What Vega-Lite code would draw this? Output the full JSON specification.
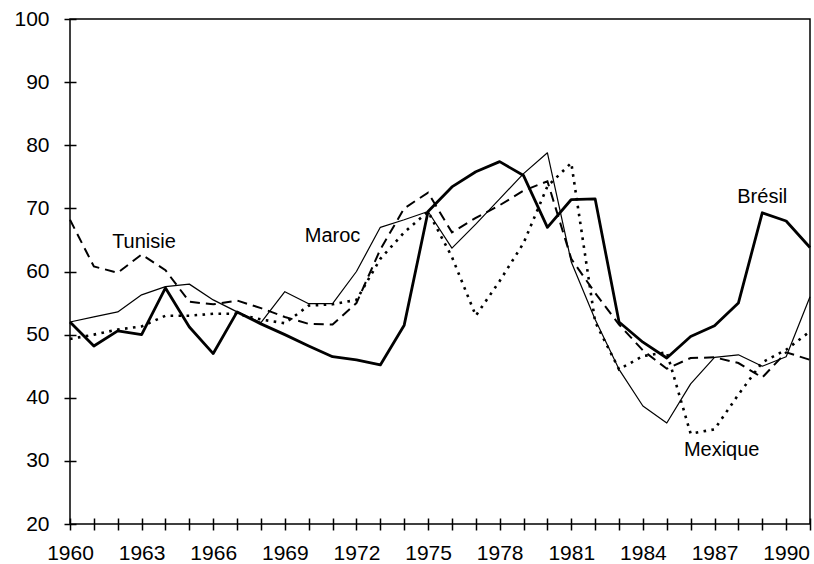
{
  "$schema": "https://vega.github.io/schema/vega-lite/v6.json",
  "width": 740,
  "height": 505,
  "autosize": {"type": "none"},
  "padding": {"left": 70, "top": 19, "right": 4, "bottom": 40},
  "background": "white",
  "config": {
    "view": {"stroke": "black", "strokeWidth": 1.5},
    "font": "Liberation Sans",
    "axis": {"grid": false, "domain": false, "tickColor": "black", "tickWidth": 1.5, "labelColor": "black", "labelFontSize": 21, "labelFont": "Liberation Sans", "title": null, "labelOverlap": false, "labelFlush": false}
  },
  "datasets": {
    "series": [
      {"annee": 1960, "pays": "Brésil", "valeur": 52}, {"annee": 1961, "pays": "Brésil", "valeur": 48.2}, {"annee": 1962, "pays": "Brésil", "valeur": 50.6}, {"annee": 1963, "pays": "Brésil", "valeur": 50}, {"annee": 1964, "pays": "Brésil", "valeur": 57.4}, {"annee": 1965, "pays": "Brésil", "valeur": 51.2}, {"annee": 1966, "pays": "Brésil", "valeur": 47}, {"annee": 1967, "pays": "Brésil", "valeur": 53.6}, {"annee": 1968, "pays": "Brésil", "valeur": 51.7}, {"annee": 1969, "pays": "Brésil", "valeur": 50}, {"annee": 1970, "pays": "Brésil", "valeur": 48.2}, {"annee": 1971, "pays": "Brésil", "valeur": 46.5}, {"annee": 1972, "pays": "Brésil", "valeur": 46}, {"annee": 1973, "pays": "Brésil", "valeur": 45.2}, {"annee": 1974, "pays": "Brésil", "valeur": 51.5}, {"annee": 1975, "pays": "Brésil", "valeur": 69.5}, {"annee": 1976, "pays": "Brésil", "valeur": 73.4}, {"annee": 1977, "pays": "Brésil", "valeur": 75.8}, {"annee": 1978, "pays": "Brésil", "valeur": 77.4}, {"annee": 1979, "pays": "Brésil", "valeur": 75.2}, {"annee": 1980, "pays": "Brésil", "valeur": 67}, {"annee": 1981, "pays": "Brésil", "valeur": 71.4}, {"annee": 1982, "pays": "Brésil", "valeur": 71.5}, {"annee": 1983, "pays": "Brésil", "valeur": 52}, {"annee": 1984, "pays": "Brésil", "valeur": 48.8}, {"annee": 1985, "pays": "Brésil", "valeur": 46.3}, {"annee": 1986, "pays": "Brésil", "valeur": 49.7}, {"annee": 1987, "pays": "Brésil", "valeur": 51.4}, {"annee": 1988, "pays": "Brésil", "valeur": 55}, {"annee": 1989, "pays": "Brésil", "valeur": 69.3}, {"annee": 1990, "pays": "Brésil", "valeur": 68}, {"annee": 1991, "pays": "Brésil", "valeur": 63.8},
      {"annee": 1960, "pays": "Maroc", "valeur": 52}, {"annee": 1961, "pays": "Maroc", "valeur": 52.8}, {"annee": 1962, "pays": "Maroc", "valeur": 53.6}, {"annee": 1963, "pays": "Maroc", "valeur": 56.3}, {"annee": 1964, "pays": "Maroc", "valeur": 57.6}, {"annee": 1965, "pays": "Maroc", "valeur": 58}, {"annee": 1966, "pays": "Maroc", "valeur": 55.5}, {"annee": 1967, "pays": "Maroc", "valeur": 53.6}, {"annee": 1968, "pays": "Maroc", "valeur": 51.9}, {"annee": 1969, "pays": "Maroc", "valeur": 56.8}, {"annee": 1970, "pays": "Maroc", "valeur": 54.9}, {"annee": 1971, "pays": "Maroc", "valeur": 54.9}, {"annee": 1972, "pays": "Maroc", "valeur": 60}, {"annee": 1973, "pays": "Maroc", "valeur": 67}, {"annee": 1974, "pays": "Maroc", "valeur": 68.2}, {"annee": 1975, "pays": "Maroc", "valeur": 69.5}, {"annee": 1976, "pays": "Maroc", "valeur": 63.7}, {"annee": 1977, "pays": "Maroc", "valeur": 67.5}, {"annee": 1978, "pays": "Maroc", "valeur": 71.5}, {"annee": 1979, "pays": "Maroc", "valeur": 75.5}, {"annee": 1980, "pays": "Maroc", "valeur": 78.8}, {"annee": 1981, "pays": "Maroc", "valeur": 61.5}, {"annee": 1982, "pays": "Maroc", "valeur": 52.4}, {"annee": 1983, "pays": "Maroc", "valeur": 44.5}, {"annee": 1984, "pays": "Maroc", "valeur": 38.7}, {"annee": 1985, "pays": "Maroc", "valeur": 36}, {"annee": 1986, "pays": "Maroc", "valeur": 42.2}, {"annee": 1987, "pays": "Maroc", "valeur": 46.4}, {"annee": 1988, "pays": "Maroc", "valeur": 46.8}, {"annee": 1989, "pays": "Maroc", "valeur": 45}, {"annee": 1990, "pays": "Maroc", "valeur": 46.5}, {"annee": 1991, "pays": "Maroc", "valeur": 56},
      {"annee": 1960, "pays": "Tunisie", "valeur": 68.2}, {"annee": 1961, "pays": "Tunisie", "valeur": 60.8}, {"annee": 1962, "pays": "Tunisie", "valeur": 59.8}, {"annee": 1963, "pays": "Tunisie", "valeur": 62.7}, {"annee": 1964, "pays": "Tunisie", "valeur": 60.2}, {"annee": 1965, "pays": "Tunisie", "valeur": 55.2}, {"annee": 1966, "pays": "Tunisie", "valeur": 54.8}, {"annee": 1967, "pays": "Tunisie", "valeur": 55.4}, {"annee": 1968, "pays": "Tunisie", "valeur": 54.2}, {"annee": 1969, "pays": "Tunisie", "valeur": 52.8}, {"annee": 1970, "pays": "Tunisie", "valeur": 51.7}, {"annee": 1971, "pays": "Tunisie", "valeur": 51.6}, {"annee": 1972, "pays": "Tunisie", "valeur": 55}, {"annee": 1973, "pays": "Tunisie", "valeur": 63.5}, {"annee": 1974, "pays": "Tunisie", "valeur": 70}, {"annee": 1975, "pays": "Tunisie", "valeur": 72.5}, {"annee": 1976, "pays": "Tunisie", "valeur": 66.2}, {"annee": 1977, "pays": "Tunisie", "valeur": 68.5}, {"annee": 1978, "pays": "Tunisie", "valeur": 70.5}, {"annee": 1979, "pays": "Tunisie", "valeur": 72.8}, {"annee": 1980, "pays": "Tunisie", "valeur": 74.3}, {"annee": 1981, "pays": "Tunisie", "valeur": 62}, {"annee": 1982, "pays": "Tunisie", "valeur": 56.6}, {"annee": 1983, "pays": "Tunisie", "valeur": 51.6}, {"annee": 1984, "pays": "Tunisie", "valeur": 47.5}, {"annee": 1985, "pays": "Tunisie", "valeur": 44.6}, {"annee": 1986, "pays": "Tunisie", "valeur": 46.3}, {"annee": 1987, "pays": "Tunisie", "valeur": 46.4}, {"annee": 1988, "pays": "Tunisie", "valeur": 45.5}, {"annee": 1989, "pays": "Tunisie", "valeur": 43.2}, {"annee": 1990, "pays": "Tunisie", "valeur": 47.2}, {"annee": 1991, "pays": "Tunisie", "valeur": 46},
      {"annee": 1960, "pays": "Mexique", "valeur": 49.3}, {"annee": 1961, "pays": "Mexique", "valeur": 50}, {"annee": 1962, "pays": "Mexique", "valeur": 50.8}, {"annee": 1963, "pays": "Mexique", "valeur": 51.3}, {"annee": 1964, "pays": "Mexique", "valeur": 53}, {"annee": 1965, "pays": "Mexique", "valeur": 53}, {"annee": 1966, "pays": "Mexique", "valeur": 53.3}, {"annee": 1967, "pays": "Mexique", "valeur": 53.3}, {"annee": 1968, "pays": "Mexique", "valeur": 52.4}, {"annee": 1969, "pays": "Mexique", "valeur": 51.8}, {"annee": 1970, "pays": "Mexique", "valeur": 54.6}, {"annee": 1971, "pays": "Mexique", "valeur": 54.8}, {"annee": 1972, "pays": "Mexique", "valeur": 55.5}, {"annee": 1973, "pays": "Mexique", "valeur": 62}, {"annee": 1974, "pays": "Mexique", "valeur": 66.2}, {"annee": 1975, "pays": "Mexique", "valeur": 69.5}, {"annee": 1976, "pays": "Mexique", "valeur": 62.3}, {"annee": 1977, "pays": "Mexique", "valeur": 53}, {"annee": 1978, "pays": "Mexique", "valeur": 58.5}, {"annee": 1979, "pays": "Mexique", "valeur": 64.5}, {"annee": 1980, "pays": "Mexique", "valeur": 73.5}, {"annee": 1981, "pays": "Mexique", "valeur": 77.2}, {"annee": 1982, "pays": "Mexique", "valeur": 52}, {"annee": 1983, "pays": "Mexique", "valeur": 44.5}, {"annee": 1984, "pays": "Mexique", "valeur": 46.6}, {"annee": 1985, "pays": "Mexique", "valeur": 47.2}, {"annee": 1986, "pays": "Mexique", "valeur": 34.3}, {"annee": 1987, "pays": "Mexique", "valeur": 35}, {"annee": 1988, "pays": "Mexique", "valeur": 40.5}, {"annee": 1989, "pays": "Mexique", "valeur": 45.6}, {"annee": 1990, "pays": "Mexique", "valeur": 47.6}, {"annee": 1991, "pays": "Mexique", "valeur": 50.5}
    ],
    "etiquettes": [
      {"annee": 1963.1, "valeur": 64.7, "texte": "Tunisie"},
      {"annee": 1971.0, "valeur": 65.7, "texte": "Maroc"},
      {"annee": 1989.0, "valeur": 71.8, "texte": "Brésil"},
      {"annee": 1987.3, "valeur": 31.8, "texte": "Mexique"}
    ]
  },
  "encoding": {
    "x": {
      "field": "annee", "type": "quantitative",
      "scale": {"domain": [1960, 1991], "nice": false, "zero": false},
      "axis": {
        "values": [1960,1961,1962,1963,1964,1965,1966,1967,1968,1969,1970,1971,1972,1973,1974,1975,1976,1977,1978,1979,1980,1981,1982,1983,1984,1985,1986,1987,1988,1989,1990,1991],
        "labelExpr": "(datum.value - 1960) % 3 == 0 && datum.value <= 1990 ? datum.value : ''",
        "offset": -6, "tickSize": 12, "labelPadding": 12, "labelFlush": false, "labelOverlap": false
      }
    },
    "y": {
      "field": "valeur", "type": "quantitative",
      "scale": {"domain": [20, 100], "nice": false, "zero": false},
      "axis": {"values": [20,30,40,50,60,70,80,90,100], "offset": -6, "tickSize": 12, "labelPadding": 15, "labelFlush": false, "labelOverlap": false}
    }
  },
  "layer": [
    {
      "data": {"name": "series"},
      "transform": [{"filter": "datum.pays == 'Maroc'"}],
      "mark": {"type": "line", "color": "black", "strokeWidth": 1.2, "strokeJoin": "round"}
    },
    {
      "data": {"name": "series"},
      "transform": [{"filter": "datum.pays == 'Tunisie'"}],
      "mark": {"type": "line", "color": "black", "strokeWidth": 2, "strokeDash": [10, 6]}
    },
    {
      "data": {"name": "series"},
      "transform": [{"filter": "datum.pays == 'Mexique'"}],
      "mark": {"type": "line", "color": "black", "strokeWidth": 2.6, "strokeDash": [2.6, 5.4]}
    },
    {
      "data": {"name": "series"},
      "transform": [{"filter": "datum.pays == 'Brésil'"}],
      "mark": {"type": "line", "color": "black", "strokeWidth": 2.8, "strokeJoin": "round"}
    },
    {
      "data": {"name": "etiquettes"},
      "mark": {"type": "text", "font": "Liberation Sans", "fontSize": 20, "color": "black", "align": "center", "baseline": "middle"},
      "encoding": {
        "text": {"field": "texte"}
      }
    }
  ]
}
